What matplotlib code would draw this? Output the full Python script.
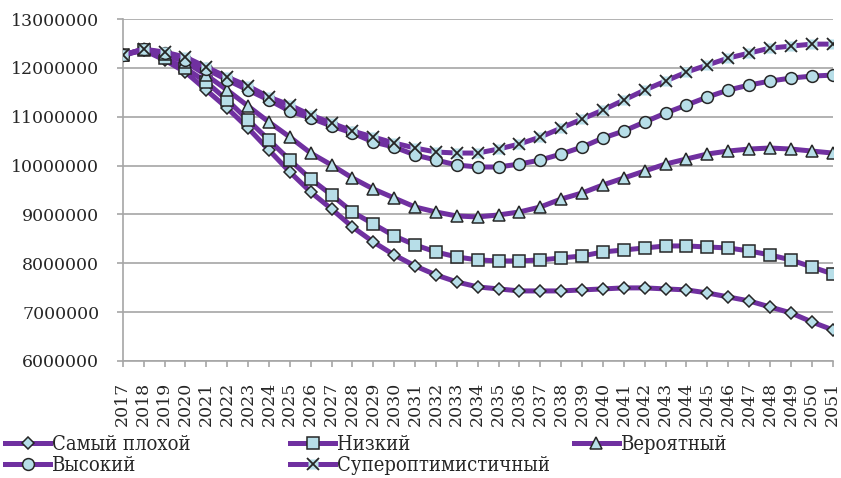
from matplotlib import pyplot as plt
from matplotlib import font_manager
import numpy as np

years = [str(y) for y in range(2017, 2052)]

worst = [12263, 12366, 12161, 11915, 11547, 11178, 10769, 10319, 9869, 9459,
         9111, 8743, 8436, 8170, 7945, 7761, 7617, 7515, 7474, 7433,
         7433, 7433, 7454, 7474, 7495, 7495, 7474, 7454, 7392, 7310,
         7228, 7105, 6983, 6799, 6636]
low = [12263, 12366, 12202, 11997, 11711, 11342, 10933, 10524, 10114, 9725,
       9398, 9050, 8804, 8559, 8375, 8231, 8129, 8068, 8047, 8047,
       8068, 8108, 8149, 8231, 8272, 8313, 8354, 8354, 8333, 8313,
       8252, 8170, 8068, 7925, 7782]
likely = [12263, 12386, 12284, 12120, 11854, 11547, 11219, 10892, 10585, 10257,
          10012, 9746, 9521, 9336, 9152, 9050, 8968, 8948, 8989, 9050,
          9152, 9316, 9439, 9603, 9746, 9889, 10032, 10135, 10237, 10298,
          10339, 10360, 10339, 10298, 10257]
high = [12263, 12386, 12304, 12161, 11977, 11752, 11547, 11342, 11117, 10974,
        10810, 10667, 10483, 10380, 10217, 10114, 10012, 9971, 9971, 10032,
        10114, 10237, 10380, 10564, 10708, 10892, 11076, 11240, 11404, 11547,
        11649, 11731, 11792, 11833, 11853]
super_opt = [12263, 12386, 12325, 12222, 12018, 11813, 11629, 11404, 11240, 11035,
             10872, 10708, 10585, 10462, 10360, 10278, 10257, 10257, 10339, 10442,
             10585, 10769, 10953, 11138, 11342, 11547, 11731, 11915, 12059, 12202,
             12304, 12406, 12447, 12488, 12488]

labels = ["Самый плохой", "Низкий", "Вероятный", "Высокий", "Супероптимистичный"]

PURPLE = "#7030A0"
FILL = "#B7DEE8"
EDGE = "#262626"
GRID = "#A6A6A6"

plt.rcParams['font.family'] = ['DejaVu Serif']

fig = plt.figure(figsize=(8.41, 4.78), dpi=100)
ax = fig.add_axes([0.146, 0.245, 0.844, 0.715])

x = np.arange(len(years))
k = 1000

line_kw = dict(color=PURPLE, lw=3.6, markerfacecolor=FILL, markeredgecolor=EDGE,
               markeredgewidth=1.1, zorder=3)

h1, = ax.plot(x, np.array(worst) * k, marker='D', markersize=6.2, **line_kw)
h2, = ax.plot(x, np.array(low) * k, marker='s', markersize=8, **line_kw)
h3, = ax.plot(x, np.array(likely) * k, marker='^', markersize=9, **line_kw)
h4, = ax.plot(x, np.array(high) * k, marker='o', markersize=8.5, **line_kw)
h5a, = ax.plot(x, np.array(super_opt) * k, color=PURPLE, lw=3.6, zorder=3)
h5b, = ax.plot(x, np.array(super_opt) * k, ls='none', marker='s', markersize=7,
               markerfacecolor=FILL, markeredgecolor='none', zorder=4)
h5c, = ax.plot(x, np.array(super_opt) * k, ls='none', marker='x', markersize=8,
               markeredgecolor=EDGE, markeredgewidth=1.3, zorder=5)

ax.set_xlim(0, len(years) - 1)
ax.set_ylim(6000000, 13000000)
ax.set_yticks(np.arange(6000000, 13000001, 1000000))
ax.set_yticklabels([str(v) for v in range(6000000, 13000001, 1000000)])
ax.set_xticks(x)
ax.set_xticklabels(years, rotation=90)

ax.grid(axis='y', color=GRID, lw=1.2)
ax.set_axisbelow(True)
for s in ['top', 'right']:
    ax.spines[s].set_visible(False)
for s in ['left', 'bottom']:
    ax.spines[s].set_color(GRID)
    ax.spines[s].set_linewidth(1.2)
ax.tick_params(axis='y', length=4, color=GRID, width=1.2, pad=13, labelsize=12.5,
               labelcolor='#262626')
ax.tick_params(axis='x', length=4, color=GRID, width=1.2, pad=11, labelsize=12.5,
               labelcolor='#262626')

# легенда: три колонки, как в Excel
leg_font = font_manager.FontProperties(family='DejaVu Serif', stretch='condensed', size=14.5)
leg_kw = dict(loc='upper left', frameon=False, prop=leg_font, handlelength=2.25,
              handletextpad=0.1, labelspacing=0.12, borderaxespad=0, borderpad=0,
              labelcolor='#262626')
fig.legend([h1, h4], [labels[0], labels[3]], bbox_to_anchor=(0.006, 0.090), **leg_kw)
fig.legend([h2, (h5a, h5b, h5c)], [labels[1], labels[4]], bbox_to_anchor=(0.345, 0.090), **leg_kw)
fig.legend([h3], [labels[2]], bbox_to_anchor=(0.682, 0.090), **leg_kw)

fig.savefig("out.png", dpi=100)
